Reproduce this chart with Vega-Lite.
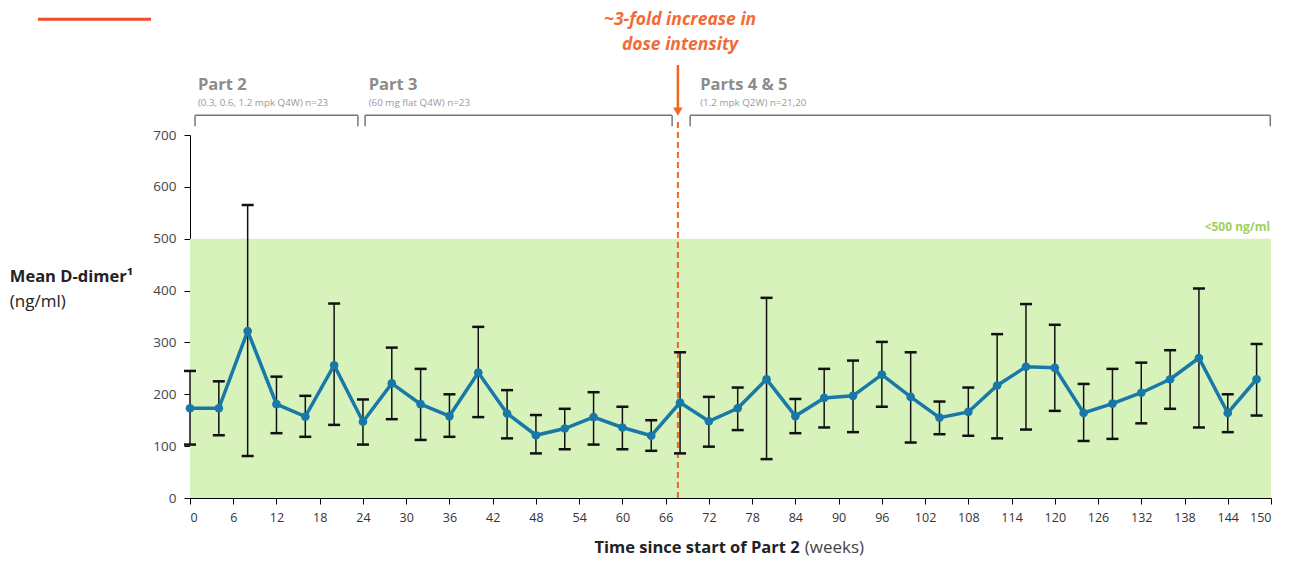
{
  "$schema": "https://vega.github.io/schema/vega-lite/v6.json",
  "autosize": "none",
  "width": 1081,
  "height": 363,
  "padding": {"left": 190, "top": 135, "right": 25, "bottom": 68},
  "background": "white",
  "config": {
    "view": {"stroke": null},
    "font": "Open Sans",
    "axis": {"grid": false, "domainColor": "#000", "tickColor": "#000", "labelColor": "#333", "title": null}
  },
  "datasets": {
    "series": [
      {"week": 0, "mean": 173, "lo": 103, "hi": 245},
      {"week": 4, "mean": 173, "lo": 121, "hi": 225},
      {"week": 8, "mean": 322, "lo": 81, "hi": 565},
      {"week": 12, "mean": 181, "lo": 125, "hi": 234},
      {"week": 16, "mean": 157, "lo": 118, "hi": 197},
      {"week": 20, "mean": 256, "lo": 141, "hi": 375},
      {"week": 24, "mean": 147, "lo": 103, "hi": 190},
      {"week": 28, "mean": 221, "lo": 152, "hi": 290},
      {"week": 32, "mean": 181, "lo": 112, "hi": 249},
      {"week": 36, "mean": 158, "lo": 118, "hi": 200},
      {"week": 40, "mean": 242, "lo": 156, "hi": 330},
      {"week": 44, "mean": 163, "lo": 115, "hi": 208},
      {"week": 48, "mean": 121, "lo": 86, "hi": 160},
      {"week": 52, "mean": 134, "lo": 94, "hi": 172},
      {"week": 56, "mean": 156, "lo": 103, "hi": 204},
      {"week": 60, "mean": 136, "lo": 94, "hi": 176},
      {"week": 64, "mean": 120, "lo": 91, "hi": 150},
      {"week": 68, "mean": 184, "lo": 86, "hi": 281},
      {"week": 72, "mean": 148, "lo": 99, "hi": 195},
      {"week": 76, "mean": 173, "lo": 131, "hi": 213},
      {"week": 80, "mean": 229, "lo": 75, "hi": 386},
      {"week": 84, "mean": 158, "lo": 125, "hi": 191},
      {"week": 88, "mean": 193, "lo": 136, "hi": 249},
      {"week": 92, "mean": 197, "lo": 127, "hi": 265},
      {"week": 96, "mean": 238, "lo": 176, "hi": 301},
      {"week": 100, "mean": 195, "lo": 107, "hi": 281},
      {"week": 104, "mean": 155, "lo": 123, "hi": 186},
      {"week": 108, "mean": 166, "lo": 120, "hi": 213},
      {"week": 112, "mean": 217, "lo": 115, "hi": 316},
      {"week": 116, "mean": 253, "lo": 132, "hi": 374},
      {"week": 120, "mean": 251, "lo": 168, "hi": 334},
      {"week": 124, "mean": 164, "lo": 110, "hi": 220},
      {"week": 128, "mean": 182, "lo": 114, "hi": 249},
      {"week": 132, "mean": 203, "lo": 144, "hi": 261},
      {"week": 136, "mean": 229, "lo": 172, "hi": 285},
      {"week": 140, "mean": 270, "lo": 136, "hi": 404},
      {"week": 144, "mean": 164, "lo": 127, "hi": 200},
      {"week": 148, "mean": 229, "lo": 159, "hi": 297}
    ],
    "brackets": [
      {"x": 0.7, "x2": 23.3, "y": 738, "y2": 738},
      {"x": 0.7, "x2": 0.7, "y": 717, "y2": 738},
      {"x": 23.3, "x2": 23.3, "y": 717, "y2": 738},
      {"x": 24.3, "x2": 66.9, "y": 738, "y2": 738},
      {"x": 24.3, "x2": 24.3, "y": 717, "y2": 738},
      {"x": 66.9, "x2": 66.9, "y": 717, "y2": 738},
      {"x": 69.4, "x2": 149.9, "y": 738, "y2": 738},
      {"x": 69.4, "x2": 69.4, "y": 717, "y2": 738},
      {"x": 149.9, "x2": 149.9, "y": 717, "y2": 738}
    ],
    "partTitles": [
      {"x": 1.1, "y": 796, "text": "Part 2"},
      {"x": 24.8, "y": 796, "text": "Part 3"},
      {"x": 70.8, "y": 796, "text": "Parts 4 & 5"}
    ],
    "partSubs": [
      {"x": 1.1, "y": 762, "text": "(0.3, 0.6, 1.2 mpk Q4W) n=23"},
      {"x": 24.8, "y": 762, "text": "(60 mg flat Q4W)  n=23"},
      {"x": 70.8, "y": 762, "text": "(1.2 mpk Q2W) n=21,20"}
    ],
    "arrowText": [
      {"x": 68.0, "y": 922, "text": "~3-fold increase in"},
      {"x": 68.0, "y": 873, "text": "dose intensity"}
    ]
  },
  "layer": [
    {
      "data": {"values": [{"x": 0, "x2": 150, "y": 0, "y2": 500}]},
      "mark": {"type": "rect", "color": "#d8f2bc"},
      "encoding": {
        "x": {"field": "x", "type": "quantitative", "scale": {"domain": [0, 150], "nice": false},
          "axis": {"values": [0,6,12,18,24,30,36,42,48,54,60,66,72,78,84,90,96,102,108,114,120,126,132,138,144,150], "tickSize": 6, "labelFontSize": 12.5, "labelPadding": 7, "labelColor": "#333"}},
        "x2": {"field": "x2"},
        "y": {"field": "y", "type": "quantitative", "scale": {"domain": [0, 700], "nice": false},
          "axis": {"values": [0,100,200,300,400,500,600,700], "tickSize": 6, "labelFontSize": 13.5, "labelPadding": 8, "labelColor": "#444"}},
        "y2": {"field": "y2"}
      }
    },
    {
      "data": {"values": [{"x": 67.7, "y": 0, "y2": 733}]},
      "mark": {"type": "rule", "color": "#f26522", "strokeWidth": 2, "strokeDash": [6, 4]},
      "encoding": {
        "x": {"field": "x", "type": "quantitative"},
        "y": {"field": "y", "type": "quantitative"},
        "y2": {"field": "y2"}
      }
    },
    {
      "data": {"name": "series"},
      "mark": {"type": "rule", "color": "#111", "strokeWidth": 1.5},
      "encoding": {
        "x": {"field": "week", "type": "quantitative"},
        "y": {"field": "lo", "type": "quantitative"},
        "y2": {"field": "hi"}
      }
    },
    {
      "data": {"name": "series"},
      "mark": {"type": "tick", "color": "#111", "orient": "horizontal", "size": 12, "thickness": 2.5, "opacity": 1},
      "encoding": {
        "x": {"field": "week", "type": "quantitative"},
        "y": {"field": "lo", "type": "quantitative"}
      }
    },
    {
      "data": {"name": "series"},
      "mark": {"type": "tick", "color": "#111", "orient": "horizontal", "size": 12, "thickness": 2.5, "opacity": 1},
      "encoding": {
        "x": {"field": "week", "type": "quantitative"},
        "y": {"field": "hi", "type": "quantitative"}
      }
    },
    {
      "data": {"name": "series"},
      "mark": {"type": "line", "color": "#1878a8", "strokeWidth": 3.5, "point": {"filled": true, "size": 75, "color": "#1878a8", "opacity": 1}},
      "encoding": {
        "x": {"field": "week", "type": "quantitative"},
        "y": {"field": "mean", "type": "quantitative"}
      }
    },
    {
      "data": {"name": "brackets"},
      "mark": {"type": "rule", "color": "#777", "strokeWidth": 1.5},
      "encoding": {
        "x": {"field": "x", "type": "quantitative"},
        "x2": {"field": "x2"},
        "y": {"field": "y", "type": "quantitative"},
        "y2": {"field": "y2"}
      }
    },
    {
      "data": {"name": "partTitles"},
      "mark": {"type": "text", "align": "left", "baseline": "middle", "fontSize": 16.5, "fontWeight": "bold", "color": "#8c8c8c", "font": "Open Sans"},
      "encoding": {
        "x": {"field": "x", "type": "quantitative"},
        "y": {"field": "y", "type": "quantitative"},
        "text": {"field": "text"}
      }
    },
    {
      "data": {"name": "partSubs"},
      "mark": {"type": "text", "align": "left", "baseline": "middle", "fontSize": 9.8, "color": "#9a9a9a", "font": "Open Sans"},
      "encoding": {
        "x": {"field": "x", "type": "quantitative"},
        "y": {"field": "y", "type": "quantitative"},
        "text": {"field": "text"}
      }
    },
    {
      "data": {"name": "arrowText"},
      "mark": {"type": "text", "align": "center", "baseline": "middle", "fontSize": 17.5, "fontWeight": "bold", "fontStyle": "italic", "color": "#f26a35", "font": "Open Sans"},
      "encoding": {
        "x": {"field": "x", "type": "quantitative"},
        "y": {"field": "y", "type": "quantitative"},
        "text": {"field": "text"}
      }
    },
    {
      "data": {"values": [{"x": 67.7, "y": 835, "y2": 752}]},
      "mark": {"type": "rule", "color": "#f26522", "strokeWidth": 2.5},
      "encoding": {
        "x": {"field": "x", "type": "quantitative"},
        "y": {"field": "y", "type": "quantitative"},
        "y2": {"field": "y2"}
      }
    },
    {
      "data": {"values": [{"x": 67.7, "y": 745}]},
      "mark": {"type": "point", "shape": "triangle-down", "filled": true, "color": "#f26522", "size": 90, "opacity": 1},
      "encoding": {
        "x": {"field": "x", "type": "quantitative"},
        "y": {"field": "y", "type": "quantitative"}
      }
    },
    {
      "data": {"values": [{"x": -21.1, "x2": -5.4, "y": 923}]},
      "mark": {"type": "rule", "color": "#f04e2a", "strokeWidth": 3},
      "encoding": {
        "x": {"field": "x", "type": "quantitative"},
        "x2": {"field": "x2"},
        "y": {"field": "y", "type": "quantitative"}
      }
    },
    {
      "data": {"values": [{"x": 149.9, "y": 522, "text": "<500 ng/ml"}]},
      "mark": {"type": "text", "align": "right", "baseline": "middle", "fontSize": 12, "fontWeight": "bold", "color": "#9fd061", "font": "Open Sans"},
      "encoding": {
        "x": {"field": "x", "type": "quantitative"},
        "y": {"field": "y", "type": "quantitative"},
        "text": {"field": "text"}
      }
    },
    {
      "data": {"values": [{"x": -25, "y": 426, "text": "Mean D-dimer¹"}]},
      "mark": {"type": "text", "align": "left", "baseline": "middle", "fontSize": 16.5, "fontWeight": "bold", "color": "#222", "font": "Open Sans"},
      "encoding": {
        "x": {"field": "x", "type": "quantitative"},
        "y": {"field": "y", "type": "quantitative"},
        "text": {"field": "text"}
      }
    },
    {
      "data": {"values": [{"x": -25, "y": 378, "text": "(ng/ml)"}]},
      "mark": {"type": "text", "align": "left", "baseline": "middle", "fontSize": 17, "color": "#222", "font": "Open Sans"},
      "encoding": {
        "x": {"field": "x", "type": "quantitative"},
        "y": {"field": "y", "type": "quantitative"},
        "text": {"field": "text"}
      }
    },
    {
      "data": {"values": [{"x": 84.6, "y": -96, "text": "Time since start of Part 2"}]},
      "mark": {"type": "text", "align": "right", "baseline": "middle", "fontSize": 16.5, "fontWeight": "bold", "color": "#222", "font": "Open Sans"},
      "encoding": {
        "x": {"field": "x", "type": "quantitative"},
        "y": {"field": "y", "type": "quantitative"},
        "text": {"field": "text"}
      }
    },
    {
      "data": {"values": [{"x": 85.3, "y": -96, "text": "(weeks)"}]},
      "mark": {"type": "text", "align": "left", "baseline": "middle", "fontSize": 17, "color": "#444", "font": "Open Sans"},
      "encoding": {
        "x": {"field": "x", "type": "quantitative"},
        "y": {"field": "y", "type": "quantitative"},
        "text": {"field": "text"}
      }
    }
  ]
}
